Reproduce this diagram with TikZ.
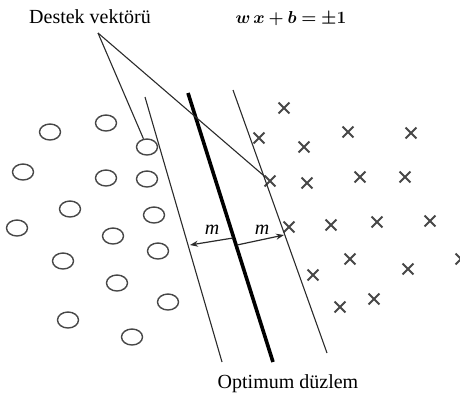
\documentclass[tikz,border=0pt]{standalone}
\usepackage{bm}
\usepackage{fontspec}
\setmainfont{Liberation Serif}
\usepackage{tikz}
\usetikzlibrary{arrows.meta,shapes.geometric,shapes.misc}
\definecolor{linec}{HTML}{2B2B2B}
\definecolor{markc}{HTML}{474747}
\tikzset{
  ar/.style={-{Stealth[length=8pt,width=6pt]},line width=1.2pt,linec},
  marg/.style={line width=1.1pt,linec},
  hyp/.style={line width=3.6pt,black},
  circ/.style={ellipse,draw=markc,line width=1.4pt,minimum width=21pt,minimum height=16pt,inner sep=0pt},
  crs/.style={cross out,draw=markc,line width=1.8pt,minimum size=9pt,inner sep=0pt},
  lbl/.style={font=\fontsize{20}{24}\selectfont}
}

\begin{document}
\begin{tikzpicture}[x=1pt,y=-1pt]
\useasboundingbox (0,0) rectangle (460,394);
% the two classes
\foreach \p [count=\i] in {(50,132),(106,123),(147,147),(23,172),(106,178),(147,179),(70,209),(154,215),
  (17,228),(113,236),(63,261),(158,251),(117,283),(168,302),(68,320),(132,337)}
  \node[circ] (c\i) at \p {};
\foreach \p [count=\i] in {(284,108),(259,138),(304,147),(348,132),(411,133),(270,181),(307,183),(360,177),
  (405,177),(289,227),(331,225),(377,222),(430,221),(350,259),(313,275),(408,269),(461,259),(340,307),(374,299)}
  \node[crs] (x\i) at \p {};
% margins and optimum plane
\draw[marg] (145,97) -- (222,362);
\draw[hyp] (188,93) -- (273,362);
\draw[marg] (233,90) -- (327,353);
% support vectors
\coordinate (sv) at (98,33);
\draw[marg] (sv) -- (c3);
\draw[marg] (sv) -- (x6);
% margin widths
\coordinate (hl) at (233,238);
\coordinate (hr) at (237,245);
\coordinate (ml) at (190,245);
\coordinate (mr) at (284,235);
\draw[ar] (hl) -- (ml);
\draw[ar] (hr) -- (mr);
\node[lbl] (m1) at (212,230) {\textit{m}};
\node[lbl] (m2) at (262,230) {\textit{m}};
% labels
\node[lbl,anchor=base] (dv) at (90,23) {Destek vektörü};
\node[font=\fontsize{18.5}{22}\selectfont,anchor=base] (eq) at (291,23) {$\bm{w\,x+b=\pm1}$};
\node[lbl,anchor=base] (od) at (288,388) {Optimum düzlem};
\end{tikzpicture}
\end{document}
